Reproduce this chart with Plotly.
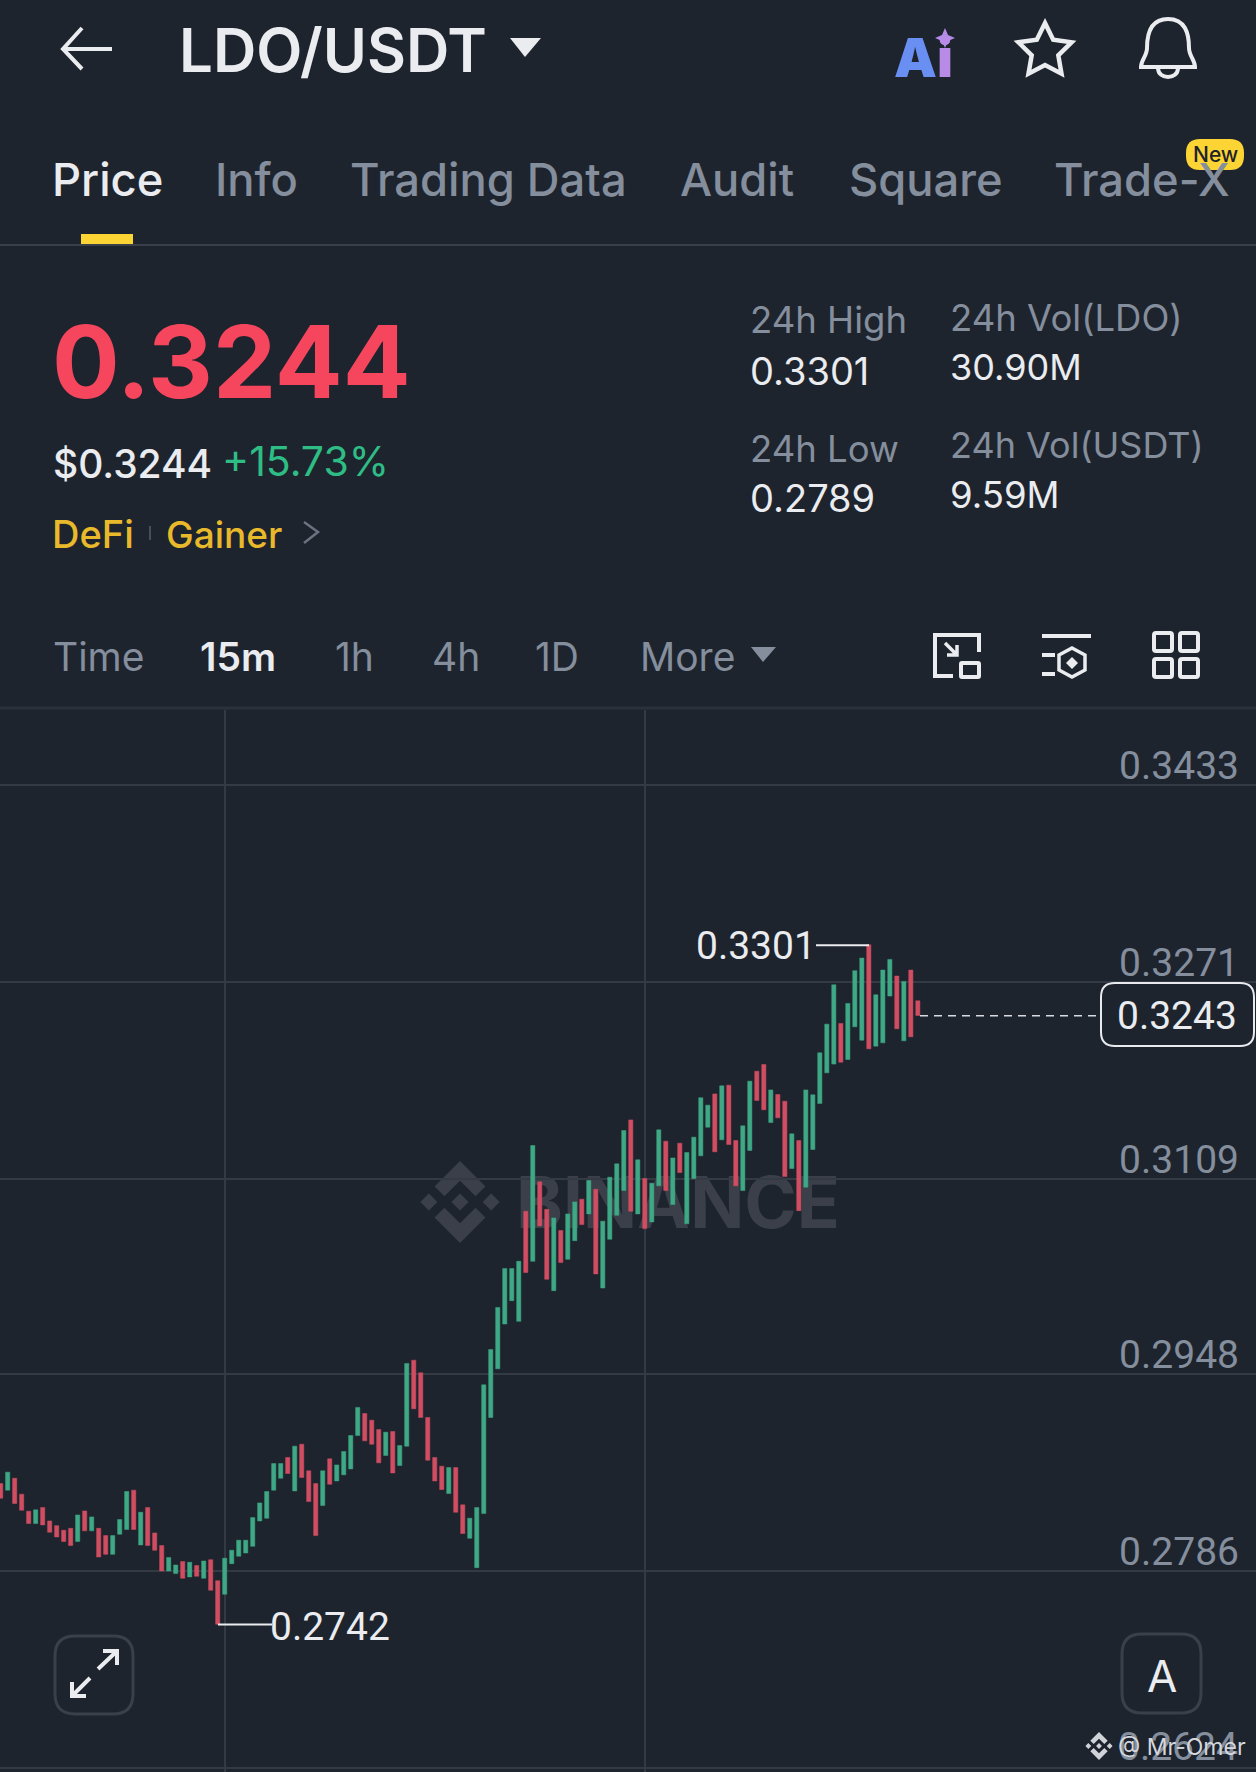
import math
import plotly.graph_objects as go

W, H = 1256, 1772
BG = "#1e242e"
GRID = "#343a44"
GREY = "#848e9c"
WHITE = "#eaecef"
YELLOW = "#fcd535"
GOLD = "#e8b92a"
FONT = "Inter"
NUMFONT = "Roboto"

price_ticks = [0.3433, 0.3271, 0.3109, 0.2948, 0.2786, 0.2624]
time_grid = [32.1, 92.05]
last_price = 0.3243
high_price = 0.3301
low_price = 0.2742

highs = [
    .28579,.28673,.28623,.28492,.28352,.28363,.28382,.28272,.28233,.28195,
    .28211,.28321,.28354,.28305,.28211,.28151,.28151,.28283,.28514,.28525,
    .28343,.28382,.28173,.28069,.27970,.27909,.27937,.27931,.27904,.27942,
    .27953,.27780,.27964,.28030,.28113,.28113,.28299,.28420,.28514,.28744,
    .28744,.28794,.28887,.28903,.28684,.28579,.28684,.28783,.28733,.28843,
    .28975,.29206,.29156,.29101,.29024,.29002,.29008,.28892,.29568,.29595,
    .29491,.29123,.28794,.28722,.28711,.28711,.28404,.28294,.28382,.29392,
    .29683,.30029,
    .30349,.30349,.30409,.30821,.31362,.31063,.30837,.30766,.30662,.30799,
    .30898,.30920,.31074,.31002,.30739,.31101,.31211,.31485,.31573,.31244,
    .31090,.31052,.31491,.31398,.31260,.31381,.31304,.31431,.31755,.31694,
    .31787,.31853,.31859,.31403,.31524,.31892,.31974,.32029,.31820,.31782,
    .31727,.31458,.31403,.31820,
    .31779,.32125,.32361,.32685,.32367,.32532,.32801,.32905,.33015,.32603,
    .32806,.32894,.32757,.32713,.32806,.32553,
]
lows = [
    .28459,.28525,.28415,.28360,.28250,.28250,.28239,.28179,.28140,.28102,
    .28069,.28102,.28190,.28190,.27975,.27997,.27997,.28162,.28201,.28201,
    .28074,.28069,.28030,.27860,.27860,.27838,.27800,.27811,.27816,.27800,
    .27701,.27421,.27668,.27920,.27981,.28008,.28063,.28272,.28294,.28525,
    .28623,.28662,.28519,.28629,.28431,.28151,.28398,.28574,.28601,.28651,
    .28700,.28975,.28931,.28903,.28750,.28810,.28667,.28728,.28887,.29195,
    .29123,.28772,.28601,.28530,.28497,.28343,.28168,.28129,.27887,.28332,
    .29123,.29524,
    .29893,.30085,.29915,.30316,.30409,.30700,.30261,.30167,.30398,.30425,
    .30579,.30711,.30799,.30305,.30189,.30590,.30788,.30991,.30821,.30799,
    .30678,.30733,.31030,.30991,.30876,.31139,.30717,.31090,.31277,.31513,
    .31310,.31409,.31370,.31030,.30991,.31321,.31733,.31656,.31551,.31590,
    .31106,.31172,.30826,.31019,
    .31329,.31708,.31960,.32032,.32048,.32070,.32339,.32229,.32158,.32180,
    .32207,.32592,.32323,.32224,.32257,.32433,
]
direction = (
    "RGRRRGRRRR" "RGRGRRGGGR" "GRRRGGRGRG" "RRGGGGGGGG"
    "GRGRRRGRGG" "GGRRRGRGGR" "RRRRGRRGGG" "GG"
    "GGGRGRRGRG" "GRGRGGGGRG" "RGGRGRGGGG"
    "RGRRGGRRGR" "RGRG"
    "GGGGRGGGRG" "GGRGRR"
)

assert len(highs) == len(lows) == len(direction) == 132

opens = [l if d == "G" else h for h, l, d in zip(highs, lows, direction)]
closes = [h if d == "G" else l for h, l, d in zip(highs, lows, direction)]
candle_x = list(range(len(highs)))


def px(x):
    return x / W


def py(y):
    return 1 - y / H


def pth(d):
    out, is_x = [], True
    for tok in d.split():
        if tok.isalpha():
            out.append(tok)
            is_x = True
        else:
            v = float(tok)
            out.append(f"{px(v):.5f}" if is_x else f"{py(v):.5f}")
            is_x = not is_x
    return " ".join(out)


shapes, annos = [], []


def stroke(d, color=WHITE, width=4, fill=None, layer="above"):
    shapes.append(dict(type="path", xref="paper", yref="paper", path=pth(d),
                       line=dict(color=color, width=width),
                       fillcolor=fill if fill else "rgba(0,0,0,0)", layer=layer))


def solid(d, color, layer="above"):
    shapes.append(dict(type="path", xref="paper", yref="paper", path=pth(d),
                       line=dict(width=0), fillcolor=color, layer=layer))


def rrect(x0, y0, x1, y1, r):
    return (f"M {x0+r} {y0} L {x1-r} {y0} Q {x1} {y0} {x1} {y0+r} L {x1} {y1-r} "
            f"Q {x1} {y1} {x1-r} {y1} L {x0+r} {y1} Q {x0} {y1} {x0} {y1-r} "
            f"L {x0} {y0+r} Q {x0} {y0} {x0+r} {y0} Z")


def text(t, x, y, size, color=WHITE, anchor="left", weight=400, family=FONT):
    annos.append(dict(text=t, x=px(x), y=py(y), xref="paper", yref="paper",
                      xanchor=anchor, yanchor="middle", showarrow=False,
                      xshift=0, yshift=0, borderpad=0, borderwidth=0,
                      font=dict(family=family, size=size, color=color, weight=weight)))


def logo(cx, cy, R, color, layer="above"):
    def poly(pts):
        return "M " + " L ".join(f"{cx+a*R:.2f} {cy+b*R:.2f}" for a, b in pts) + " Z"
    r = 0.21
    for ox, oy in [(0, 0), (-0.76, 0), (0.76, 0)]:
        solid(poly([(ox, oy - r), (ox + r, oy), (ox, oy + r), (ox - r, oy)]), color, layer)
    for s in (-1, 1):
        solid(poly([(0, s*1), (0.62, s*0.38), (0.38, s*0.14), (0, s*0.52),
                    (-0.38, s*0.14), (-0.62, s*0.38)]), color, layer)


# --- header ---
stroke("M 112 49 L 63 49 M 82 28 L 63 49 L 82 69", WHITE, 4)
text("LDO/USDT", 179, 50, 60, WHITE, weight=600)
solid("M 510 38 L 541 38 L 525 57 Z", WHITE)
text('<span style="color:#6a8ff2">A</span><span style="color:#b88ce6">i</span>',
     923, 58, 54, "#6a8ff2", "center", 900)
solid("M 945 28 L 948 35 L 955 38 L 948 41 L 945 48 L 942 41 L 935 38 L 942 35 Z", "#b48be8")
star = []
for k in range(10):
    rad = 28 if k % 2 == 0 else 14
    a = -math.pi / 2 + k * math.pi / 5
    star.append(f"{1045 + rad*math.cos(a):.1f} {51 + rad*math.sin(a):.1f}")
stroke("M " + " L ".join(star) + " Z", WHITE, 4.5)
stroke("M 1168 19 C 1151 19 1147 33 1147 48 C 1147 56 1141 60 1141 67 L 1195 67 "
       "C 1195 60 1189 56 1189 48 C 1189 33 1185 19 1168 19 Z", WHITE, 4)
stroke("M 1158 68 C 1158 80 1178 80 1178 68", WHITE, 4)

# --- tabs ---
for label, x, col, wt in [("Price", 52, WHITE, 500), ("Info", 215, GREY, 500),
                          ("Trading Data", 350, GREY, 500), ("Audit", 680, GREY, 500),
                          ("Square", 849, GREY, 500), ("Trade-X", 1054, GREY, 500)]:
    text(label, x, 179, 45.3, col, weight=wt)
solid(rrect(1186, 139, 1244, 170, 14), YELLOW)
text("New", 1215, 155, 21, "#1e2329", "center", 500)
solid("M 81 234 L 133 234 L 133 244 L 81 244 Z", YELLOW)
stroke("M 0 245 L 1256 245", "#3a404a", 2)

# --- price block ---
text("0.3244", 52, 362, 100.5, "#f6465d", weight=700)
text("$0.3244", 53, 463, 39, WHITE, weight=500)
text("+15.73%", 222, 461, 41, "#2ebd85", weight=400)
text("DeFi", 52, 534, 38, GOLD, weight=500)
stroke("M 150 526 L 150 540", "#4a4f57", 2)
text("Gainer", 166, 534, 37, GOLD, weight=500)
stroke("M 304 522 L 318 532 L 304 543", "#6b7280", 2.5)

text("24h High", 750, 320, 36.5, GREY)
text("0.3301", 750, 371, 38, WHITE)
text("24h Low", 750, 449, 36.5, GREY)
text("0.2789", 750, 498, 38, WHITE)
text("24h Vol(LDO)", 950, 318, 36.5, GREY)
text("30.90M", 950, 367, 36, WHITE)
text("24h Vol(USDT)", 950, 445, 36, GREY)
text("9.59M", 950, 495, 36.5, WHITE)

# --- interval row ---
for label, x, col, wt in [("Time", 53, GREY, 400), ("15m", 200, WHITE, 600), ("1h", 335, GREY, 400),
                          ("4h", 432, GREY, 400), ("1D", 535, GREY, 400), ("More", 640, GREY, 400)]:
    text(label, x, 656, 39, col, weight=wt)
solid("M 751 647 L 776 647 L 763 662 Z", GREY)
stroke("M 979 652 L 979 635 L 935 635 L 935 676 L 953 676", WHITE, 4)
stroke(rrect(961, 663, 979, 677, 1), WHITE, 4)
stroke("M 945 643 L 957 655 M 957 645 L 957 655 L 947 655", WHITE, 3.5)
stroke("M 1042 636 L 1091 636 M 1042 655 L 1055 655 M 1042 674 L 1055 674", WHITE, 4)
stroke("M 1072 648 L 1085 655 L 1085 670 L 1072 677 L 1059 670 L 1059 655 Z", WHITE, 3.5)
solid("M 1072 657 L 1078 663 L 1072 669 L 1066 663 Z", WHITE)
for a, b in [(1154, 633), (1180, 633), (1154, 659), (1180, 659)]:
    stroke(rrect(a, b, a + 18, b + 18, 2), WHITE, 4)
stroke("M 0 708 L 1256 708", "#2b3139", 3)

# --- chart furniture ---
shapes.append(dict(type="rect", xref="paper", yref="paper", x0=px(518), x1=px(838),
                   y0=py(1225), y1=py(1175), line=dict(width=0), layer="below",
                   fillcolor="rgba(0,0,0,0)",
                   label=dict(text="<b>BINANCE</b>", textposition="middle center",
                              font=dict(family=FONT, size=71, color="#3a3f49"))))
logo(460, 1202, 41, "#3a3f49", "below")

shapes.append(dict(type="line", xref="paper", yref="y", x0=px(920), x1=px(1098),
                   y0=last_price, y1=last_price,
                   line=dict(color="#d8dadf", width=1.5, dash="8px,6px")))
stroke(rrect(1101, 983, 1254, 1046, 14), "#e8eaee", 2, BG)
text(f"{last_price:.4f}", 1177, 1016, 39, WHITE, "center", family=NUMFONT)

shapes.append(dict(type="line", xref="paper", yref="y", x0=px(816), x1=px(869),
                   y0=high_price, y1=high_price, line=dict(color=WHITE, width=2)))
text(f"{high_price:.4f}", 696, 946, 39, WHITE, family=NUMFONT)
shapes.append(dict(type="line", xref="paper", yref="y", x0=px(218), x1=px(272),
                   y0=low_price, y1=low_price, line=dict(color=WHITE, width=2)))
text(f"{low_price:.4f}", 270, 1627, 39, WHITE, family=NUMFONT)

stroke(rrect(55, 1636, 133, 1714, 20), "#3a404a", 3, BG)
stroke("M 98 1669 L 117 1651 M 103 1651 L 117 1651 L 117 1665", WHITE, 4)
stroke("M 90 1678 L 72 1696 M 72 1682 L 72 1696 L 86 1696", WHITE, 4)
stroke(rrect(1122, 1634, 1201, 1713, 20), "#3a404a", 3, BG)
text("A", 1162, 1676, 44, WHITE, "center")

# The lowest tick label sits beneath the watermark, so it is drawn before it.
text(f"{price_ticks[-1]:.4f}", 1238, 1747, 39, GREY, "right", family=NUMFONT)
logo(1099, 1746, 14, "#d0d3d8")
text("@ Mr-Omer", 1118, 1747, 23, "#d5d7dc")

fig = go.Figure(go.Candlestick(
    x=candle_x, open=opens, high=highs, low=lows, close=closes,
    increasing=dict(line=dict(color="#3fa885", width=0.5), fillcolor="#3fa885"),
    decreasing=dict(line=dict(color="#d14e62", width=0.5), fillcolor="#d14e62"),
    whiskerwidth=0, showlegend=False, hoverinfo="skip",
))

tick_text = [f"{v:.4f}" for v in price_ticks[:-1]] + [""]

fig.update_layout(
    width=W, height=H, margin=dict(l=0, r=0, t=0, b=0),
    paper_bgcolor=BG, plot_bgcolor=BG, showlegend=False, boxgap=0.15,
    shapes=shapes, annotations=annos,
    font=dict(family=FONT),
    xaxis=dict(range=[-0.096, 179.3], tickvals=time_grid, showticklabels=False,
               showgrid=True, gridcolor=GRID, gridwidth=1.5, zeroline=False,
               ticks="", showline=False, rangeslider=dict(visible=False), fixedrange=True),
    yaxis=dict(domain=[0, 1062 / 1772], range=[0.26205, 0.34947], side="right",
               tickvals=price_ticks, ticktext=tick_text,
               ticklabelposition="inside top", ticklabelstandoff=14, ticklabelshift=8,
               tickfont=dict(family=NUMFONT, size=39, color=GREY),
               showgrid=True, gridcolor=GRID, gridwidth=1.5, zeroline=False,
               ticks="", showline=False, fixedrange=True),
)

fig.write_html("out.html", config={"displayModeBar": False},
               post_script="document.body.style.margin='0';")
